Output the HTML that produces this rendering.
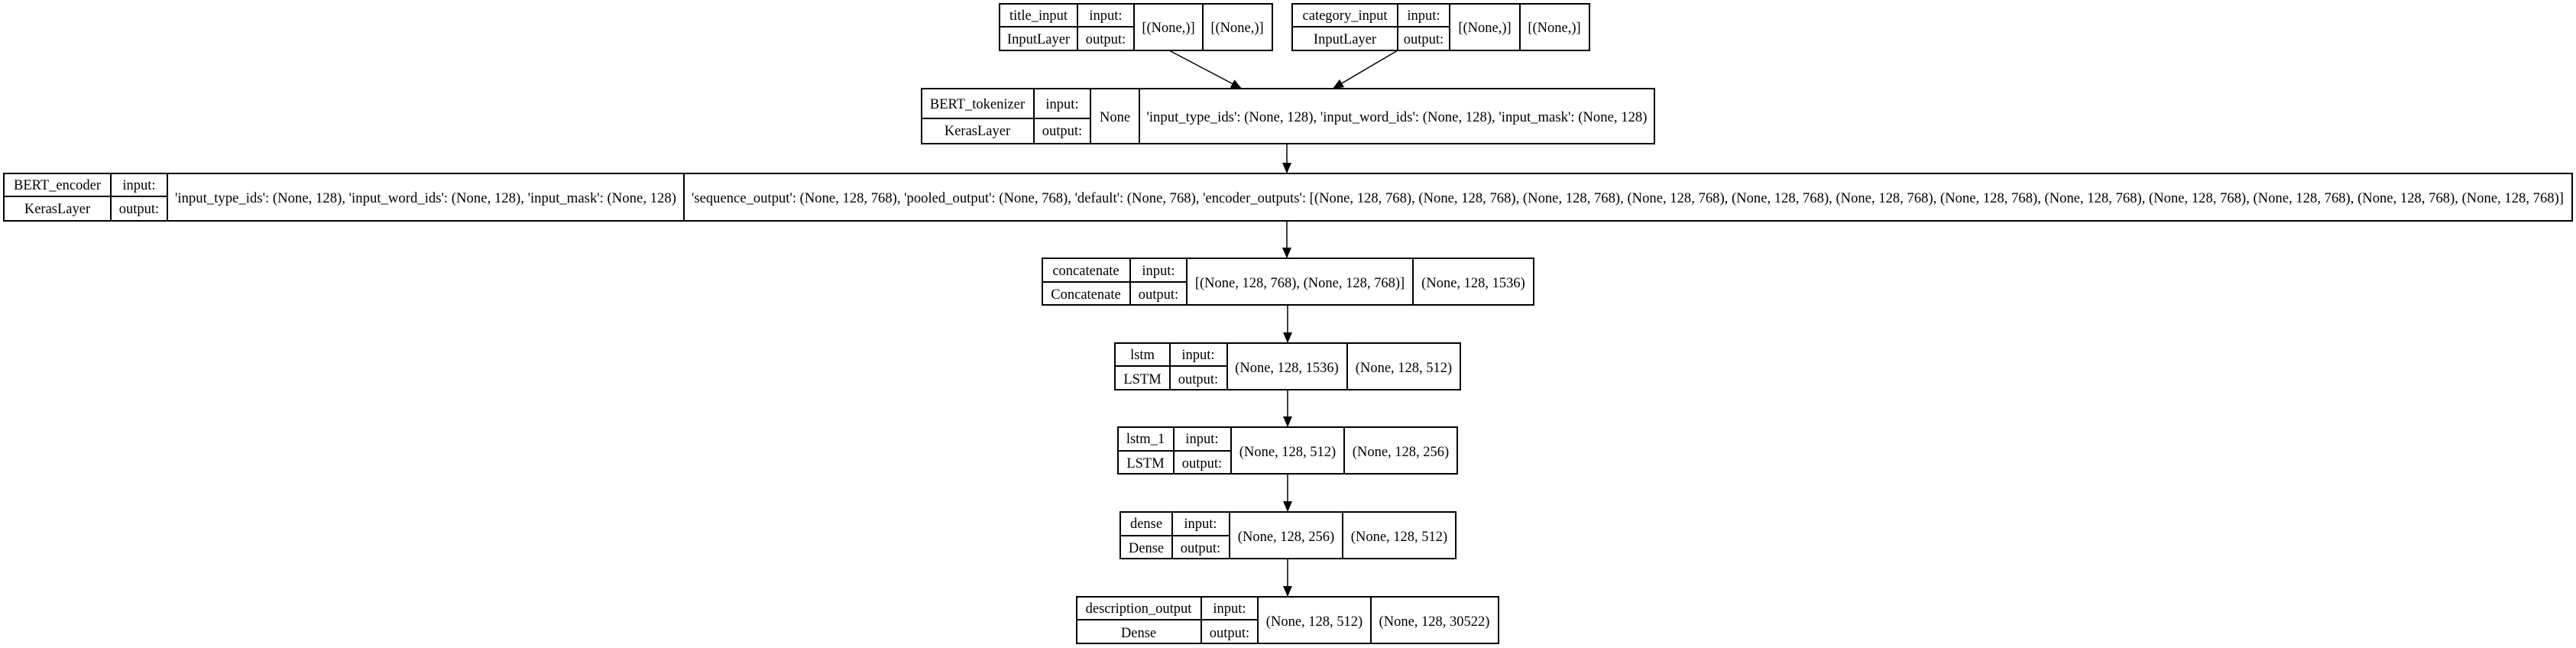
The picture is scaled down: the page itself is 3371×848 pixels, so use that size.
<!DOCTYPE html>
<html><head><meta charset="utf-8"><style>
html,body{margin:0;padding:0;background:#fff;}
svg{display:block;}
text{font-family:"Liberation Serif",serif;font-size:18.5px;fill:#000;}
</style></head><body>
<svg width="3371" height="848" viewBox="0 0 3371 848" xmlns="http://www.w3.org/2000/svg">
<defs><marker id="a" markerWidth="14" markerHeight="12" refX="14" refY="6" orient="auto" markerUnits="userSpaceOnUse"><path d="M0,0 L14,6 L0,12 z" fill="#000"/></marker></defs>
<g fill="none" stroke="#000" stroke-width="2">
<rect x="1308" y="5" width="357" height="61"/><line x1="1410" y1="5" x2="1410" y2="66"/><line x1="1484" y1="5" x2="1484" y2="66"/><line x1="1574" y1="5" x2="1574" y2="66"/><line x1="1308" y1="35" x2="1484" y2="35"/>
<rect x="1691" y="5" width="389" height="61"/><line x1="1829" y1="5" x2="1829" y2="66"/><line x1="1897" y1="5" x2="1897" y2="66"/><line x1="1989" y1="5" x2="1989" y2="66"/><line x1="1691" y1="35" x2="1897" y2="35"/>
<rect x="1206" y="116" width="959" height="72"/><line x1="1353" y1="116" x2="1353" y2="188"/><line x1="1427" y1="116" x2="1427" y2="188"/><line x1="1491" y1="116" x2="1491" y2="188"/><line x1="1206" y1="155" x2="1427" y2="155"/>
<rect x="5" y="227" width="3361" height="62"/><line x1="145" y1="227" x2="145" y2="289"/><line x1="219" y1="227" x2="219" y2="289"/><line x1="895" y1="227" x2="895" y2="289"/><line x1="5" y1="257" x2="219" y2="257"/>
<rect x="1364" y="338" width="643" height="61"/><line x1="1479" y1="338" x2="1479" y2="399"/><line x1="1553" y1="338" x2="1553" y2="399"/><line x1="1849" y1="338" x2="1849" y2="399"/><line x1="1364" y1="369" x2="1553" y2="369"/>
<rect x="1459" y="449" width="452" height="61"/><line x1="1531" y1="449" x2="1531" y2="510"/><line x1="1606" y1="449" x2="1606" y2="510"/><line x1="1763" y1="449" x2="1763" y2="510"/><line x1="1459" y1="479" x2="1606" y2="479"/>
<rect x="1463" y="559" width="444" height="61"/><line x1="1536" y1="559" x2="1536" y2="620"/><line x1="1611" y1="559" x2="1611" y2="620"/><line x1="1759" y1="559" x2="1759" y2="620"/><line x1="1463" y1="590" x2="1611" y2="590"/>
<rect x="1466" y="670" width="439" height="61"/><line x1="1534" y1="670" x2="1534" y2="731"/><line x1="1609" y1="670" x2="1609" y2="731"/><line x1="1757" y1="670" x2="1757" y2="731"/><line x1="1466" y1="701" x2="1609" y2="701"/>
<rect x="1409" y="781" width="552" height="61"/><line x1="1572" y1="781" x2="1572" y2="842"/><line x1="1646" y1="781" x2="1646" y2="842"/><line x1="1794" y1="781" x2="1794" y2="842"/><line x1="1409" y1="811" x2="1646" y2="811"/>
</g>
<g stroke="#000" stroke-width="1.5" marker-end="url(#a)">
<line x1="1530" y1="66" x2="1625" y2="116"/>
<line x1="1829" y1="66" x2="1744" y2="116"/>
<line x1="1684" y1="188" x2="1684" y2="227"/>
<line x1="1684" y1="289" x2="1684" y2="338"/>
<line x1="1685" y1="399" x2="1685" y2="449"/>
<line x1="1685" y1="510" x2="1685" y2="559"/>
<line x1="1685" y1="620" x2="1685" y2="670"/>
<line x1="1685" y1="731" x2="1685" y2="781"/>
</g>
<g text-anchor="middle">
<text x="1359" y="26">title_input</text><text x="1359" y="57">InputLayer</text><text x="1447" y="26">input:</text><text x="1447" y="57">output:</text><text x="1529" y="42">[(None,)]</text><text x="1619" y="42">[(None,)]</text>
<text x="1760" y="26">category_input</text><text x="1760" y="57">InputLayer</text><text x="1863" y="26">input:</text><text x="1863" y="57">output:</text><text x="1943" y="42">[(None,)]</text><text x="2034" y="42">[(None,)]</text>
<text x="1279" y="142">BERT_tokenizer</text><text x="1279" y="177">KerasLayer</text><text x="1390" y="142">input:</text><text x="1390" y="177">output:</text><text x="1459" y="159">None</text>
<text x="1828" y="159" textLength="655" lengthAdjust="spacingAndGlyphs">'input_type_ids': (None, 128), 'input_word_ids': (None, 128), 'input_mask': (None, 128)</text>
<text x="75" y="248">BERT_encoder</text><text x="75" y="279">KerasLayer</text><text x="182" y="248">input:</text><text x="182" y="279">output:</text>
<text x="557" y="265" textLength="656" lengthAdjust="spacingAndGlyphs">'input_type_ids': (None, 128), 'input_word_ids': (None, 128), 'input_mask': (None, 128)</text>
<text x="2130" y="265" textLength="2450" lengthAdjust="spacingAndGlyphs">'sequence_output': (None, 128, 768), 'pooled_output': (None, 768), 'default': (None, 768), 'encoder_outputs': [(None, 128, 768), (None, 128, 768), (None, 128, 768), (None, 128, 768), (None, 128, 768), (None, 128, 768), (None, 128, 768), (None, 128, 768), (None, 128, 768), (None, 128, 768), (None, 128, 768), (None, 128, 768)]</text>
<text x="1421" y="360">concatenate</text><text x="1421" y="391">Concatenate</text><text x="1516" y="360">input:</text><text x="1516" y="391">output:</text><text x="1701" y="376">[(None, 128, 768), (None, 128, 768)]</text><text x="1928" y="376">(None, 128, 1536)</text>
<text x="1495" y="470">lstm</text><text x="1495" y="502">LSTM</text><text x="1568" y="470">input:</text><text x="1568" y="502">output:</text><text x="1684" y="487">(None, 128, 1536)</text><text x="1837" y="487">(None, 128, 512)</text>
<text x="1499" y="580">lstm_1</text><text x="1499" y="612">LSTM</text><text x="1573" y="580">input:</text><text x="1573" y="612">output:</text><text x="1685" y="597">(None, 128, 512)</text><text x="1833" y="597">(None, 128, 256)</text>
<text x="1500" y="691">dense</text><text x="1500" y="723">Dense</text><text x="1571" y="691">input:</text><text x="1571" y="723">output:</text><text x="1683" y="708">(None, 128, 256)</text><text x="1831" y="708">(None, 128, 512)</text>
<text x="1490" y="802">description_output</text><text x="1490" y="834">Dense</text><text x="1609" y="802">input:</text><text x="1609" y="834">output:</text><text x="1720" y="819">(None, 128, 512)</text><text x="1877" y="819">(None, 128, 30522)</text>
</g>
</svg>
</body></html>
